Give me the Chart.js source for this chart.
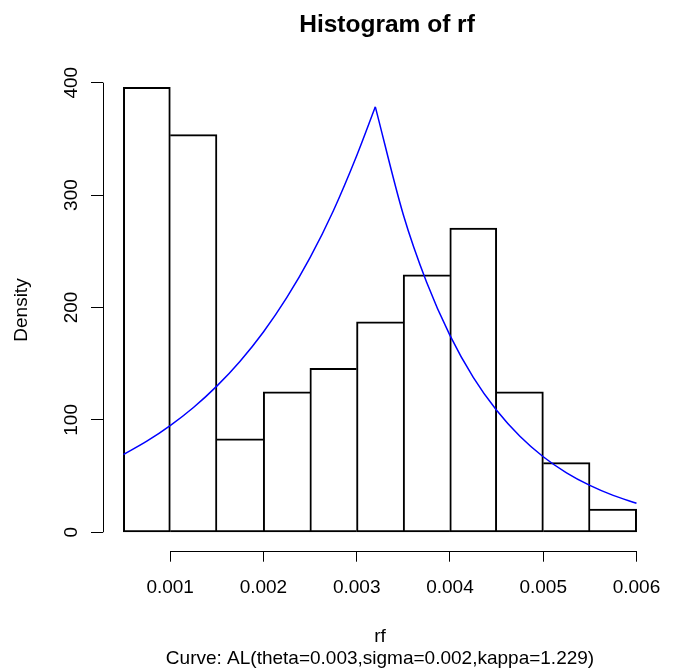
<!DOCTYPE html>
<html>
<head>
<meta charset="utf-8">
<title>Histogram of rf</title>
<script src="https://cdn.jsdelivr.net/npm/chart.js@4"></script>
<style>
  html, body { margin: 0; padding: 0; background: #fff; }
  canvas { display: block; }
</style>
</head>
<body>
<canvas id="chart-hist" width="679" height="671"></canvas>
<script>
// histogram bins (break points) and bar heights
const binEdges = [0.0005, 0.001, 0.0015, 0.002, 0.0025, 0.003, 0.0035, 0.004, 0.0045, 0.005, 0.0055, 0.006]
const density = [395.6, 353.7, 83.0, 124.8, 145.6, 187.1, 228.9, 270.5, 124.8, 61.9, 20.5]

// AL density curve (left and right of the peak)
const curveLeftX = [0.0005, 0.00075, 0.001, 0.00125, 0.0015, 0.00175, 0.002, 0.00225, 0.0025, 0.00275, 0.003, 0.0032]
const curveLeftY = [69.2, 81.0, 94.9, 111.0, 130.0, 152.2, 178.2, 208.7, 244.3, 286.1, 335.0, 378.5]
const curveRightX = [0.0032, 0.0035, 0.00375, 0.004, 0.00425, 0.0045, 0.00475, 0.005, 0.00525, 0.0055, 0.00575, 0.006]
const curveRightY = [378.5, 282.5, 222.4, 175.1, 137.8, 108.5, 85.4, 67.2, 52.9, 41.7, 32.8, 25.8]

const xTicks = [0.001, 0.002, 0.003, 0.004, 0.005, 0.006]
const yTicks = [0, 100, 200, 300, 400]

const mainTitle = 'Histogram of rf'
const xLabel = 'rf'
const yLabel = 'Density'
const subTitle = 'Curve: AL(theta=0.003,sigma=0.002,kappa=1.229)'

const family = "'Liberation Sans', Arial, Helvetica, sans-serif"

function barData() {
  return density.map((d, i) => ({ x: (binEdges[i] + binEdges[i + 1]) / 2, y: d }))
}

function curveData(xs, ys) {
  return xs.map((x, i) => ({ x, y: ys[i] }))
}

// a shared edge is drawn once, by the taller of the two bars
function barBorder(c) {
  const i = c.dataIndex
  const last = density.length - 1
  return {
    top: 1,
    bottom: 1,
    left: (i === 0 || density[i] > density[i - 1]) ? 1 : 0,
    right: (i === last || density[i] >= density[i + 1]) ? 1 : 0
  }
}

// R style axes: line only from first to last tick, plus the free texts
const rAxes = {
  id: 'rAxes',
  afterDraw(chart) {
    const { ctx, chartArea, scales: { x, y } } = chart
    ctx.save()
    ctx.strokeStyle = '#000'
    ctx.lineWidth = 1
    ctx.beginPath()
    const ax = Math.round(chartArea.left) + 0.5
    ctx.moveTo(ax, y.getPixelForValue(yTicks[0]))
    ctx.lineTo(ax, y.getPixelForValue(yTicks[yTicks.length - 1]))
    const ay = Math.round(chartArea.bottom) + 0.5
    ctx.moveTo(x.getPixelForValue(xTicks[0]), ay)
    ctx.lineTo(x.getPixelForValue(xTicks[xTicks.length - 1]), ay)
    ctx.stroke()

    const cx = (chartArea.left + chartArea.right) / 2
    const cy = (chartArea.top + chartArea.bottom) / 2
    ctx.fillStyle = '#000'
    ctx.textAlign = 'center'
    ctx.textBaseline = 'alphabetic'
    ctx.font = `bold 24.5px ${family}`
    ctx.fillText(mainTitle, cx + 7, 32)
    ctx.font = `19px ${family}`
    ctx.fillText(xLabel, cx, 642)
    ctx.fillText(subTitle, cx, 664)
    ctx.textBaseline = 'middle'
    ctx.translate(22, cy)
    ctx.rotate(-Math.PI / 2)
    ctx.fillText(yLabel, 0, 0)
    ctx.restore()
  }
}

function drawChart() {
  const canvas = document.getElementById('chart-hist').getContext('2d')

  const config = {
    type: 'bar',
    data: {
      datasets: [
        {
          type: 'line',
          data: curveData(curveLeftX, curveLeftY),
          borderColor: '#0000ff',
          borderWidth: 1.5,
          pointRadius: 0,
          cubicInterpolationMode: 'monotone',
          fill: false,
          order: 0
        },
        {
          type: 'line',
          data: curveData(curveRightX, curveRightY),
          borderColor: '#0000ff',
          borderWidth: 1.5,
          pointRadius: 0,
          cubicInterpolationMode: 'monotone',
          fill: false,
          order: 0
        },
        {
          data: barData(),
          backgroundColor: 'rgba(255,255,255,0)',
          borderColor: '#000',
          borderWidth: barBorder,
          borderSkipped: false,
          inflateAmount: 0.5,
          barPercentage: 1,
          categoryPercentage: 1,
          order: 1
        }
      ]
    },
    options: {
      responsive: false,
      animation: false,
      events: [],
      layout: {
        padding: { top: 69.4, right: 22, bottom: 0, left: 0 }
      },
      plugins: {
        legend: { display: false },
        tooltip: { enabled: false },
        title: { display: false }
      },
      scales: {
        x: {
          type: 'linear',
          min: 0.00028,
          max: 0.00622,
          offset: false,
          afterBuildTicks: s => { s.ticks = xTicks.map(v => ({ value: v })) },
          afterFit: s => { s.height = 120.3 },
          grid: { display: true, offset: false, drawOnChartArea: false, drawTicks: true, tickLength: 11, color: '#000', lineWidth: 1 },
          border: { display: false },
          ticks: {
            autoSkip: false,
            maxRotation: 0,
            padding: 15,
            color: '#000',
            font: { family, size: 19 },
            callback: v => v.toFixed(3)
          }
        },
        y: {
          type: 'linear',
          min: -16.4,
          max: 411.8,
          afterBuildTicks: s => { s.ticks = yTicks.map(v => ({ value: v })) },
          afterFit: s => { s.width = 103 },
          grid: { display: true, drawOnChartArea: false, drawTicks: true, tickLength: 12, color: '#000', lineWidth: 1 },
          border: { display: false },
          ticks: {
            autoSkip: false,
            minRotation: 90,
            maxRotation: 90,
            crossAlign: 'center',
            padding: 3,
            color: '#000',
            font: { family, size: 19 },
            callback: v => String(v)
          }
        }
      }
    },
    plugins: [rAxes]
  }

  new Chart(canvas, config)
}

drawChart()
</script>
</body>
</html>
